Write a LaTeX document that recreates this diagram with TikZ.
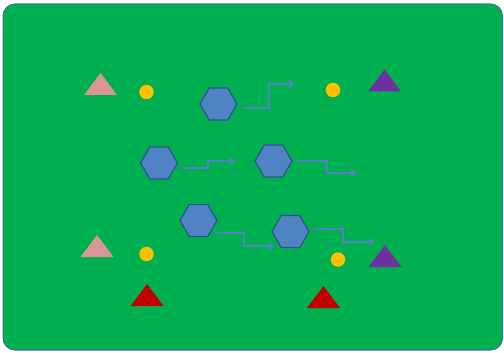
\documentclass[tikz,border=0pt]{standalone}
\usetikzlibrary{shapes.geometric,arrows.meta}
\definecolor{field}{HTML}{00B050}
\definecolor{fieldline}{HTML}{41719C}
\definecolor{hexfill}{HTML}{5083C3}
\definecolor{hexline}{HTML}{2F528F}
\definecolor{arrowblue}{HTML}{5482C0}
\definecolor{pinktri}{HTML}{D99694}
\definecolor{purpletri}{HTML}{7030A0}
\definecolor{redtri}{HTML}{C00000}
\definecolor{dotyellow}{HTML}{FFC000}
\tikzset{
  hexnode/.style={regular polygon, regular polygon sides=6, minimum size=37pt, inner sep=0pt,
    fill=hexfill, draw=hexline, line width=1.2pt},
  dotnode/.style={circle, minimum size=14.5pt, inner sep=0pt, fill=dotyellow},
  runarrow/.style={draw=arrowblue, line width=2.3pt, -{Triangle[length=6pt,width=8pt]}},
  tri/.pic={\fill (-16.5,11) -- (0,-11) -- (16.5,11) -- cycle;}
}
\begin{document}
\begin{tikzpicture}[x=1pt,y=-1pt]
\useasboundingbox (0,0) rectangle (504,353);
\fill[white] (0,0) rectangle (504,353);
\draw[fill=field, draw=fieldline, line width=1pt, rounded corners=12pt] (3,4) rectangle (502.5,350);

% triangles
\pic[pinktri] at (100.5,84) {tri};
\pic[pinktri] at (97,246) {tri};
\pic[purpletri] at (384.5,80.5) {tri};
\pic[purpletri] at (385,256) {tri};
\pic[redtri] at (147,295) {tri};
\pic[redtri] at (323.5,297) {tri};

% dots
\node[dotnode] (d1) at (146.5,92) {};
\node[dotnode] (d2) at (333,90) {};
\node[dotnode] (d3) at (146.5,254) {};
\node[dotnode] (d4) at (338,259.5) {};

% hexagons
\node[hexnode] (h1) at (218.5,104) {};
\node[hexnode] (h2) at (159,163) {};
\node[hexnode] (h3) at (273.5,161) {};
\node[hexnode] (h4) at (198.5,220.5) {};
\node[hexnode] (h5) at (290.5,231.5) {};

% arrow endpoints
\coordinate (s1) at (243,108);  \coordinate (e1) at (295,84);
\coordinate (s2) at (181,168);  \coordinate (e2) at (235,161);
\coordinate (s3) at (297,161);  \coordinate (e3) at (357,173);
\coordinate (s4) at (215,233);  \coordinate (e4) at (275,246);
\coordinate (s5) at (314,229);  \coordinate (e5) at (375,242);

\draw[runarrow] (s1) -- (269,108) -- (269,84) -- (e1);
\draw[runarrow] (s2) -- (208,168) -- (208,161) -- (e2);
\draw[runarrow] (s3) -- (327,161) -- (327,173) -- (e3);
\draw[runarrow] (s4) -- (244,233) -- (244,246) -- (e4);
\draw[runarrow] (s5) -- (343,229) -- (343,242) -- (e5);
\end{tikzpicture}
\end{document}
